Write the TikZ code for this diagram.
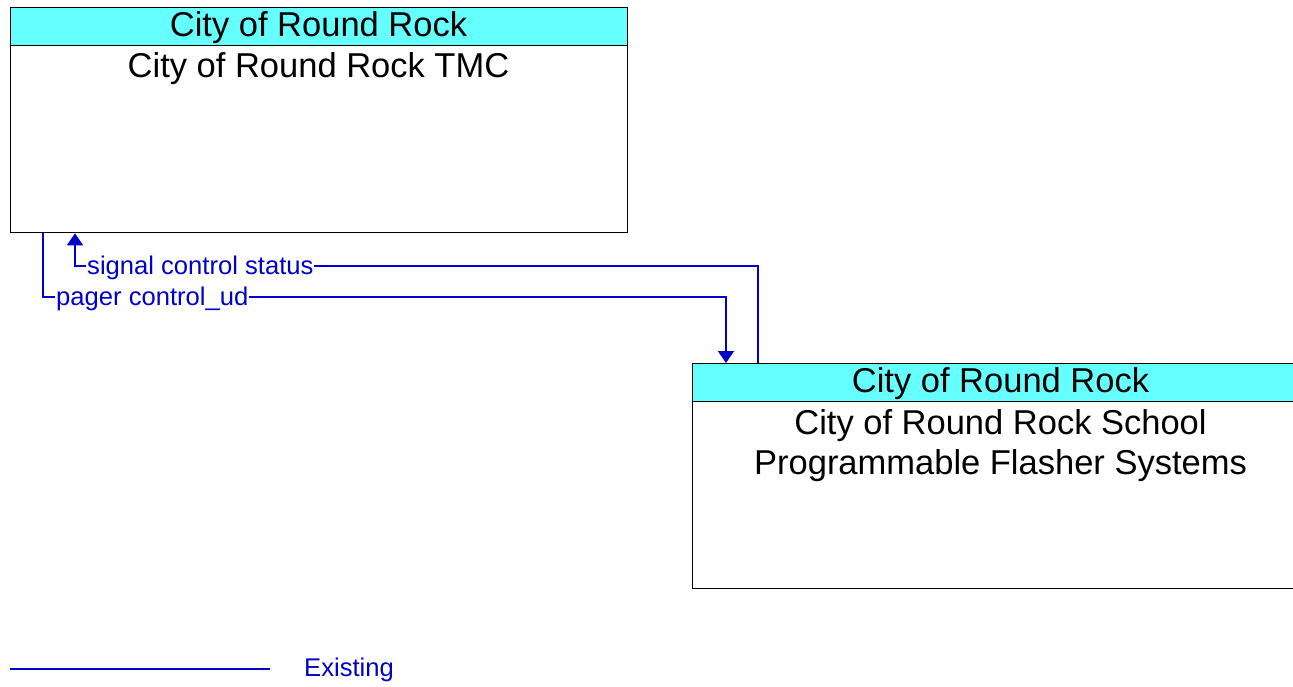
\documentclass[tikz,border=0pt]{standalone}
\usepackage{fontspec}
\setmainfont{Liberation Sans}
\usetikzlibrary{arrows.meta,positioning}
\definecolor{flowblue}{RGB}{0,0,200}
\definecolor{headcyan}{RGB}{102,255,255}
\tikzset{
  element/.style={
    shape = rectangle,
    draw = black,
    line width = 1.3pt,
    fill = white,
    minimum width = 617pt,
    minimum height = 225pt,
    inner sep = 0pt
  },
  elemhead/.style={
    shape = rectangle,
    draw = black,
    line width = 1.3pt,
    fill = headcyan,
    minimum width = 617pt,
    minimum height = 38pt,
    inner sep = 0pt
  },
  elemtext/.style={
    align = center,
    inner sep = 0pt,
    font = \fontsize{34.5}{40}\selectfont
  },
  flow/.style={
    draw = flowblue,
    line width = 1.3pt,
    -{Triangle[length=12pt,width=16pt]}
  },
  flowlabel/.style={
    fill = white,
    text = flowblue,
    inner sep = 1pt,
    font = \fontsize{25.6}{30}\selectfont
  }
}
\begin{document}
\begin{tikzpicture}[x=1pt,y=-1pt]
        \useasboundingbox (0,0) rectangle (1293,686);
        % elements
        \node[element, anchor=north west] (tmc) at (10,7) {};
        \node[elemhead, anchor=north west] (tmchead) at (10,7) {};
        \node[elemtext] (tmctitle) at (318.5,28) {City of Round Rock};
        \node[elemtext] (tmctext) at (318.5,69) {City of Round Rock TMC};
        \node[element, anchor=north west] (flasher) at (692,363) {};
        \node[elemhead, anchor=north west] (flasherhead) at (692,363) {};
        \node[elemtext] (flashertitle) at (1000.5,384) {City of Round Rock};
        \node[elemtext] (flashertext) at (1000.5,446) {City of Round Rock School\\Programmable Flasher Systems};
        % flows
        \coordinate (sigbend) at (75,266);
        \coordinate (pagbend) at (43,297);
        \draw[flow] ([xshift=66pt]flasher.north west) |- (sigbend) -- (sigbend |- tmc.south);
        \draw[flow] (tmc.south -| pagbend) -- (pagbend) -| ([xshift=34pt]flasher.north west);
        \node[flowlabel, anchor=west] (siglabel) at (86,268) {signal control status};
        \node[flowlabel, anchor=west] (paglabel) at (55,299) {pager control\_ud};
        % legend
        \coordinate (legstart) at (10,669);
        \coordinate (legend) at (270,669);
        \draw[draw=flowblue, line width=1.3pt] (legstart) -- (legend);
        \node[flowlabel, anchor=west] (legtext) at (303,670) {Existing};
\end{tikzpicture}
\end{document}
